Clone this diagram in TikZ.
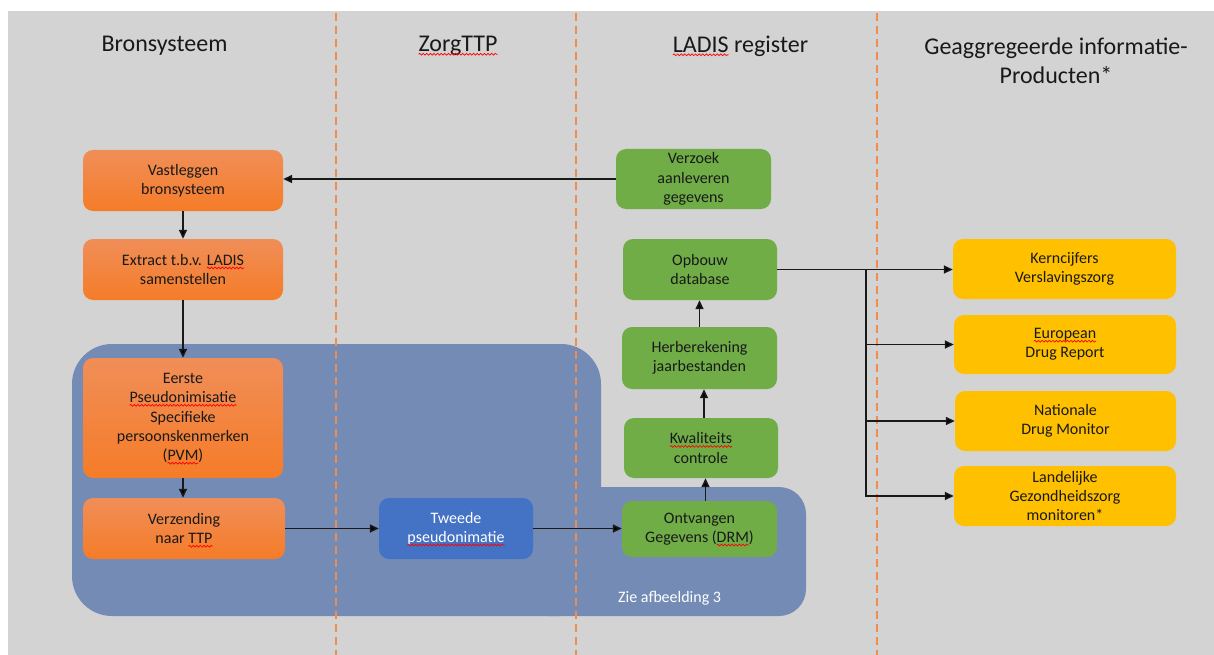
\documentclass[tikz,border=0pt]{standalone}
\usepackage{fontspec}
\setmainfont{Carlito}
\usetikzlibrary{arrows.meta,decorations.pathmorphing}
\definecolor{bg}{RGB}{211,211,211}
\definecolor{region}{RGB}{115,139,181}
\definecolor{orTop}{RGB}{240,142,88}
\definecolor{orBot}{RGB}{245,124,40}
\definecolor{grn}{RGB}{112,173,71}
\definecolor{yel}{RGB}{255,192,0}
\definecolor{blu}{RGB}{68,114,196}
\definecolor{dashor}{RGB}{240,140,80}
\definecolor{ink}{RGB}{25,25,25}
\newlength\sqwd
\newsavebox\sqbox
\newcommand\sq[1]{\sbox\sqbox{#1}\setlength\sqwd{\wd\sqbox}\usebox\sqbox\tikz[overlay]\draw[sharp corners,red,line width=0.7pt,decorate,decoration={snake,amplitude=0.9pt,segment length=3.6pt}] (-\sqwd,-2.6pt) -- (0pt,-2.6pt);}
\begin{document}
\begin{tikzpicture}[x=1pt,y=-1pt,
  box/.style={rounded corners=10pt,inner sep=1pt,align=center,font=\fontsize{16}{19.3}\selectfont,text=ink,draw=none},
  obox/.style={box,top color=orTop,bottom color=orBot},
  gbox/.style={box,fill=grn},
  ybox/.style={box,fill=yel},
  bbox/.style={box,fill=blu,text=white},
  title/.style={font=\fontsize{24}{29}\selectfont,align=center,text=ink,inner sep=0pt},
  arr/.style={-{Triangle[length=9pt,width=8pt]},line width=1.5pt,draw=ink},
  divider/.style={draw=dashor,line width=1.5pt,dash pattern=on 8pt off 5pt}]
\useasboundingbox (0,0) rectangle (1214,655);
\fill[white] (0,0) rectangle (1214,655);
\fill[bg] (7.5,11) rectangle (1214,655);
% zone
\fill[region,rounded corners=40pt] (72,344) rectangle (601,616);
\fill[region,rounded corners=27pt] (520,487) rectangle (806,616);
% dividers
\draw[divider] (336,13) -- (336,655);
\draw[divider] (576,13) -- (576,655);
\draw[divider] (877,13) -- (877,655);
% titles
\node[title] (t1) at (164.5,46) {Bronsysteem};
\node[title] (t2) at (458,46) {\sq{ZorgTTP}};
\node[title] (t3) at (740.5,46) {\sq{LADIS} register};
\node[title] (t4) at (1056,60.5) {Geaggregeerde informatie-\\Producten*};
% bronsysteem
\node[obox,minimum width=200pt,minimum height=61pt] (vast) at (183,180.5) {Vastleggen\\bronsysteem};
\node[obox,minimum width=200pt,minimum height=61pt] (extr) at (183,269.5) {Extract t.b.v. \sq{LADIS}\\samenstellen};
\node[obox,minimum width=200pt,minimum height=120pt] (eerste) at (183,418) {Eerste\\\sq{Pseudonimisatie}\\Specifieke\\persoonskenmerken\\(\sq{PVM})};
\node[obox,minimum width=202pt,minimum height=61pt] (verz) at (184,528.5) {Verzending\\naar \sq{TTP}};
% TTP
\node[bbox,minimum width=154pt,minimum height=61pt] (twee) at (456,528.5) {Tweede\\\sq{pseudonimatie}};
% LADIS
\node[gbox,minimum width=155pt,minimum height=60pt] (verzoek) at (693.5,179) {Verzoek\\aanleveren\\gegevens};
\node[gbox,minimum width=154pt,minimum height=61pt] (opbouw) at (700,269.5) {Opbouw\\database};
\node[gbox,minimum width=155pt,minimum height=62pt] (herb) at (699.5,358) {Herberekening\\jaarbestanden};
\node[gbox,minimum width=154pt,minimum height=60pt] (kwal) at (701,448) {\sq{Kwaliteits}\\controle};
\node[gbox,minimum width=155pt,minimum height=56pt] (ontv) at (699.5,529) {Ontvangen\\Gegevens (\sq{DRM})};
% products
\node[ybox,minimum width=223pt,minimum height=60pt] (kern) at (1064.5,269) {Kerncijfers\\Verslavingszorg};
\node[ybox,minimum width=222pt,minimum height=59pt] (euro) at (1065,344.5) {\sq{European}\\Drug Report};
\node[ybox,minimum width=221pt,minimum height=60pt] (nat) at (1065.5,421) {Nationale\\Drug Monitor};
\node[ybox,minimum width=222pt,minimum height=60pt] (land) at (1065,496) {Landelijke\\Gezondheidszorg\\monitoren*};
\node[font=\fontsize{16}{19}\selectfont,text=white,anchor=west,inner sep=0pt] (zie) at (618,598) {Zie afbeelding 3};
% connectors
\draw[arr] (verzoek.west) -- (verzoek.west -| vast.east);
\draw[arr] (vast.south) -- (extr.north);
\draw[arr] (extr.south) -- (eerste.north);
\draw[arr] (eerste.south) -- (eerste.south |- verz.north);
\draw[arr] (verz.east) -- (verz.east -| twee.west);
\draw[arr] (twee.east) -- (twee.east -| ontv.west);
\draw[arr] ([xshift=6pt]ontv.north) -- ([xshift=6pt]ontv.north |- kwal.south);
\draw[arr] ([xshift=3pt]kwal.north) -- ([xshift=3pt]kwal.north |- herb.south);
\draw[arr] (herb.north) -- (herb.north |- opbouw.south);
\draw[arr] (opbouw.east) -- (opbouw.east -| kern.west);
\coordinate (br) at (866,269.5);
\draw[arr] (br) |- (euro.west);
\draw[arr] (br) |- (nat.west);
\draw[arr] (br) |- (land.west);
\end{tikzpicture}
\end{document}
